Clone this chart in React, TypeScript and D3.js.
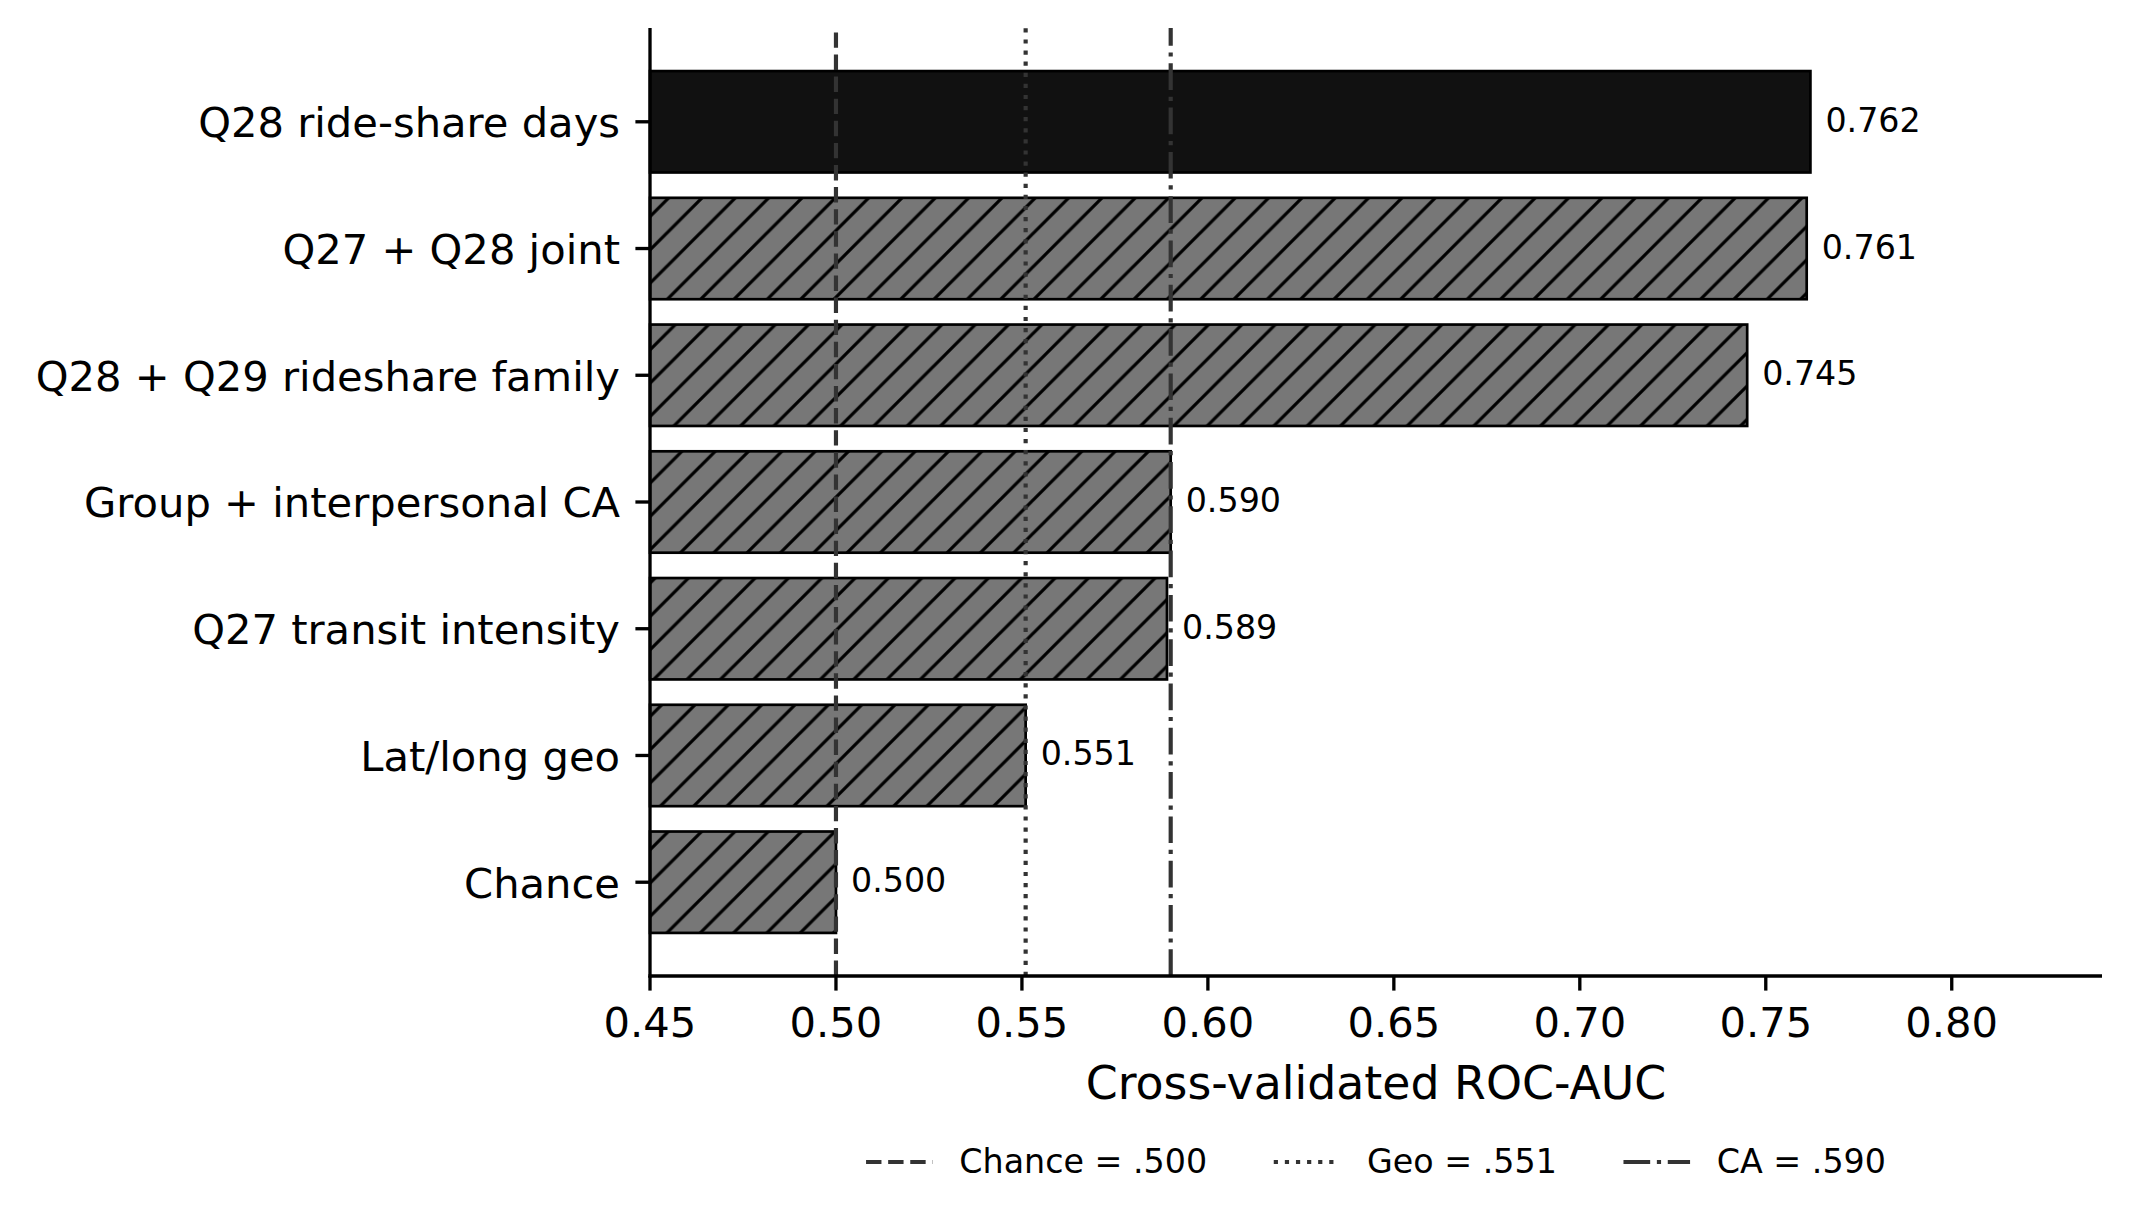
import React, { useEffect, useRef } from 'react';
import * as d3 from 'd3';

// Model comparison data (top to bottom as drawn)
const categories = [
  'Q28 ride-share days',
  'Q27 + Q28 joint',
  'Q28 + Q29 rideshare family',
  'Group + interpersonal CA',
  'Q27 transit intensity',
  'Lat/long geo',
  'Chance'
];
const aucValues = [0.762, 0.761, 0.745, 0.590, 0.589, 0.551, 0.500];
const xTicks = [0.45, 0.50, 0.55, 0.60, 0.65, 0.70, 0.75, 0.80];

// Reference lines
const refLabels = ['Chance = .500', 'Geo = .551', 'CA = .590'];
const refValues = [0.500, 0.551, 0.590];

const WIDTH = 2129;
const HEIGHT = 1225;
const FONT = '"DejaVu Sans", Verdana, sans-serif';

const App: React.FC = () => {
  const svgRef = useRef<SVGSVGElement>(null);

  useEffect(() => {
    if (!svgRef.current) return;
    const svg = d3.select(svgRef.current);
    svg.selectAll('*').remove();

    const left = 650, right = 2102, top = 28, bottom = 976;
    const x = d3.scaleLinear().domain([0.45, 0.8404]).range([left, right]);
    const y = d3.scaleBand<string>()
      .domain(categories)
      .range([top, bottom])
      .paddingInner(0.2)
      .paddingOuter(0.34);

    const dashes = ['15.4,6.7', '4.2,6.9', '26.7,6.7,4.2,6.7'];

    // hatch pattern "/"
    const defs = svg.append('defs');
    const hs = 33.33;
    const pat = defs.append('pattern')
      .attr('id', 'hatch')
      .attr('patternUnits', 'userSpaceOnUse')
      .attr('width', hs)
      .attr('height', hs);
    pat.append('rect').attr('width', hs).attr('height', hs).attr('fill', '#777777');
    pat.append('path')
      .attr('d', `M-${hs / 2},${hs / 2} L${hs / 2},-${hs / 2} M0,${hs} L${hs},0 M${hs / 2},${hs * 1.5} L${hs * 1.5},${hs / 2}`)
      .attr('stroke', '#000')
      .attr('stroke-width', 3.2);

    // bars
    svg.append('g')
      .selectAll('rect')
      .data(categories)
      .enter()
      .append('rect')
      .attr('x', x(0.45))
      .attr('y', d => y(d)!)
      .attr('width', (d, i) => x(aucValues[i]) - x(0.45))
      .attr('height', y.bandwidth())
      .attr('fill', (d, i) => (i === 0 ? '#111111' : 'url(#hatch)'))
      .attr('stroke', '#000')
      .attr('stroke-width', 2.7);

    // reference lines
    svg.append('g')
      .selectAll('path')
      .data(refValues)
      .enter()
      .append('path')
      .attr('d', d => `M${x(d)},${bottom} L${x(d)},${top}`)
      .attr('stroke', '#333333')
      .attr('stroke-width', 4.17)
      .attr('stroke-dasharray', (d, i) => dashes[i])
      .attr('fill', 'none');

    // value labels
    svg.append('g')
      .selectAll('text')
      .data(categories)
      .enter()
      .append('text')
      .attr('x', (d, i) => x(aucValues[i]) + 15)
      .attr('y', d => y(d)! + y.bandwidth() / 2 + 10)
      .attr('font-family', FONT)
      .attr('font-size', 33.3)
      .attr('fill', '#000')
      .text((d, i) => d3.format('.3f')(aucValues[i]));

    // spines
    svg.append('line')
      .attr('x1', left).attr('x2', left).attr('y1', top).attr('y2', bottom + 1.6)
      .attr('stroke', '#000').attr('stroke-width', 3.33);
    svg.append('line')
      .attr('x1', left - 1.6).attr('x2', right).attr('y1', bottom).attr('y2', bottom)
      .attr('stroke', '#000').attr('stroke-width', 3.33);

    // y ticks + labels
    const yAxis = svg.append('g');
    categories.forEach(c => {
      const cy = y(c)! + y.bandwidth() / 2;
      yAxis.append('line')
        .attr('x1', left - 14.6).attr('x2', left).attr('y1', cy).attr('y2', cy)
        .attr('stroke', '#000').attr('stroke-width', 3.33);
      yAxis.append('text')
        .attr('x', left - 30)
        .attr('y', cy + 15.3)
        .attr('text-anchor', 'end')
        .attr('font-family', FONT)
        .attr('font-size', 41.67)
        .text(c);
    });

    // x ticks + labels
    const xAxis = svg.append('g');
    xTicks.forEach(t => {
      xAxis.append('line')
        .attr('x1', x(t)).attr('x2', x(t)).attr('y1', bottom).attr('y2', bottom + 14.6)
        .attr('stroke', '#000').attr('stroke-width', 3.33);
      xAxis.append('text')
        .attr('x', x(t))
        .attr('y', 1037)
        .attr('text-anchor', 'middle')
        .attr('font-family', FONT)
        .attr('font-size', 41.67)
        .text(d3.format('.2f')(t));
    });

    // x axis title
    svg.append('text')
      .attr('x', (left + right) / 2)
      .attr('y', 1099)
      .attr('text-anchor', 'middle')
      .attr('font-family', FONT)
      .attr('font-size', 45.8)
      .text('Cross-validated ROC-AUC');

    // legend below the axis, centred
    const fs = 33.3;
    const handleLen = 2.0 * fs;
    const handlePad = 0.8 * fs;
    const colSpace = 2.0 * fs;
    const legend = svg.append('g');
    const texts = refLabels.map(l =>
      legend.append('text')
        .attr('font-family', FONT)
        .attr('font-size', fs)
        .attr('y', 1173)
        .text(l)
    );
    const widths = texts.map(t => (t.node() as SVGTextElement).getComputedTextLength());
    const total = d3.sum(widths) + refLabels.length * (handleLen + handlePad) + (refLabels.length - 1) * colSpace;
    let cx = (left + right) / 2 - total / 2;
    refLabels.forEach((l, i) => {
      legend.append('path')
        .attr('d', `M${cx},1162 L${cx + handleLen},1162`)
        .attr('stroke', '#333333')
        .attr('stroke-width', 4.17)
        .attr('stroke-dasharray', dashes[i])
        .attr('fill', 'none');
      texts[i].attr('x', cx + handleLen + handlePad);
      cx += handleLen + handlePad + widths[i] + colSpace;
    });
  }, []);

  return (
    <svg
      ref={svgRef}
      width={WIDTH}
      height={HEIGHT}
      style={{ position: 'absolute', left: 0, top: 0, background: '#fff' }}
    />
  );
};

export default App;
